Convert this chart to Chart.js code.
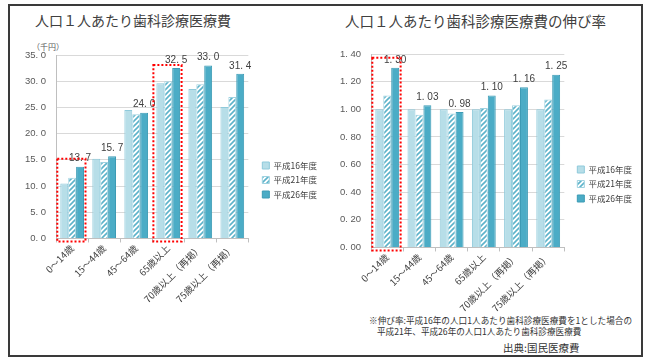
<!DOCTYPE html>
<html><head><meta charset="utf-8">
<script src="https://cdn.jsdelivr.net/npm/chart.js@4/dist/chart.umd.min.js"></script>
<style>
html,body{margin:0;padding:0;background:#fff;}
body{width:650px;height:362px;position:relative;overflow:hidden;font-family:"Noto Sans CJK JP",sans-serif;color:#404040;}
#frame{position:absolute;left:8px;top:4px;width:631px;height:349px;border:2px solid #3a3a3a;box-sizing:content-box;}
.t{position:absolute;white-space:nowrap;}
canvas{position:absolute;}
</style></head><body>
<div id="frame"></div>
<div class="t" style="left:35px;top:10px;font-size:14px;">人口１人あたり歯科診療医療費</div>
<div class="t" style="left:345px;top:10px;font-size:14.5px;">人口１人あたり歯科診療医療費の伸び率</div>
<div class="t" style="left:32px;top:41px;font-size:8px;color:#595959;">（千円）</div>
<div class="t" style="left:369px;top:314px;font-size:8.65px;color:#333;">※伸び率:平成16年の人口1人あたり歯科診療医療費を1とした場合の</div>
<div class="t" style="left:377px;top:325px;font-size:8.6px;color:#333;">平成21年、平成26年の人口1人あたり歯科診療医療費</div>
<div class="t" style="left:503px;top:340px;font-size:10.5px;color:#333;">出典:国民医療費</div>
<canvas id="c1" style="left:8px;top:32px;" width="316" height="273"></canvas>
<canvas id="c2" style="left:326px;top:36px;" width="316" height="278"></canvas>
<script>
const categories = ['0～14歳','15～44歳','45～64歳','65歳以上','70歳以上（再掲）','75歳以上（再掲）'];
const seriesNames = ['平成16年度','平成21年度','平成26年度'];
const cost16 = [10.5, 15.2, 24.5, 29.6, 28.5, 25.1];
const cost21 = [11.6, 14.6, 23.7, 30.0, 29.4, 27.0];
const cost26 = [13.7, 15.7, 24.0, 32.5, 33.0, 31.4];
const rate16 = [1.00, 1.00, 1.00, 1.00, 1.00, 1.00];
const rate21 = [1.10, 0.96, 0.97, 1.01, 1.03, 1.07];
const rate26 = [1.30, 1.03, 0.98, 1.10, 1.16, 1.25];
const costTicks = [0, 5, 10, 15, 20, 25, 30, 35];
const rateTicks = [0, 0.2, 0.4, 0.6, 0.8, 1.0, 1.2, 1.4];
const costHighlight = [0, 3];
const rateHighlight = [0];

Chart.defaults.font.family = '"Noto Sans CJK JP", "Noto Sans", sans-serif';
Chart.defaults.color = '#595959';
Chart.defaults.animation = false;

function hatch(){
  const c = document.createElement('canvas'); c.width = 5; c.height = 5;
  const x = c.getContext('2d');
  x.fillStyle = '#ffffff'; x.fillRect(0,0,5,5);
  x.strokeStyle = '#5db3ca'; x.lineWidth = 1.6;
  x.beginPath();
  x.moveTo(-1,6); x.lineTo(6,-1);
  x.moveTo(-1,1); x.lineTo(1,-1);
  x.moveTo(4,6); x.lineTo(6,4);
  x.stroke();
  return x.createPattern(c,'repeat');
}
const pat = hatch();

function datasets(a,b,c){
  return [
    {label:seriesNames[0], data:a, backgroundColor:'#b7dee8', borderColor:'#8fcadb', borderWidth:1},
    {label:seriesNames[1], data:b, backgroundColor:pat, borderColor:'#9fd2e0', borderWidth:1},
    {label:seriesNames[2], data:c, backgroundColor:'#4bacc6', borderColor:'#3c9bb5', borderWidth:1}
  ];
}

const valueLabels = {
  id:'valueLabels',
  afterDatasetsDraw(chart, args, opts){
    const ctx = chart.ctx;
    const meta = chart.getDatasetMeta(2);
    ctx.save();
    ctx.font = '10px "Liberation Sans", sans-serif';
    ctx.fillStyle = '#404040';
    ctx.textAlign = 'center'; ctx.textBaseline = 'bottom';
    meta.data.forEach((bar,i)=>{
      const v = chart.data.datasets[2].data[i];
      ctx.fillText(v.toFixed(opts.digits).replace('.', '. '), bar.x, bar.y - 3);
    });
    ctx.restore();
  }
};
const highlight = {
  id:'highlight',
  afterDatasetsDraw(chart, args, opts){
    const ctx = chart.ctx;
    const m0 = chart.getDatasetMeta(0), m2 = chart.getDatasetMeta(2);
    const ys = chart.scales.y;
    ctx.save();
    ctx.strokeStyle = '#ff0000'; ctx.lineWidth = 2; ctx.setLineDash([2,2]);
    opts.items.forEach((idx,k)=>{
      const b0 = m0.data[idx], b2 = m2.data[idx];
      let top = Math.min(...[0,1,2].map(d=>chart.getDatasetMeta(d).data[idx].y));
      top -= opts.pads[k];
      const l = b0.x - b0.width/2 - 3, r = b2.x + b2.width/2 + 1.5;
      const bot = ys.bottom + 3;
      ctx.strokeRect(l, top, r-l, bot-top);
    });
    ctx.restore();
  }
};
const legendShift = {
  id:'legendShift',
  afterLayout(chart, args, opts){
    const lg = chart.legend;
    if (lg) { lg.left += opts.dx; lg.right += opts.dx; }
  }
};

function makeChart(id, a, b, c, ticks, digits, hl, pads, padding, dx){
  return new Chart(document.getElementById(id), {
    type:'bar',
    data:{labels:categories, datasets:datasets(a,b,c)},
    options:{
      responsive:false,
      layout:{padding:padding},
      datasets:{bar:{categoryPercentage:0.74, barPercentage:1.0}},
      plugins:{
        legend:{position:'right', labels:{boxWidth:7, boxHeight:7, padding:6, color:'#404040', font:{size:8.5}}},
        tooltip:{enabled:false},
        valueLabels:{digits:digits},
        highlight:{items:hl, pads:pads},
        legendShift:{dx:dx}
      },
      scales:{
        x:{
          grid:{display:true, drawOnChartArea:false, offset:true, tickLength:4, color:'#bfbfbf'},
          border:{color:'#bfbfbf'},
          ticks:{minRotation:45, maxRotation:45, font:{size:9.5}, color:'#404040', padding:0}
        },
        y:{
          min:ticks[0], max:ticks[ticks.length-1],
          afterBuildTicks(s){ s.ticks = ticks.map(v=>({value:v})); },
          grid:{color:'#d9d9d9', drawTicks:false},
          border:{color:'#bfbfbf'},
          ticks:{padding:10, font:{size:9.5, family:'"Liberation Sans", sans-serif'}, color:'#595959', callback:(v)=>Number(v).toFixed(digits).replace('.', '. ')}
        }
      }
    },
    plugins:[valueLabels, highlight, legendShift]
  });
}
makeChart('c1', cost16, cost21, cost26, costTicks, 1, costHighlight, [8, 3], {left:7, top:23, right:5, bottom:0}, 8);
makeChart('c2', rate16, rate21, rate26, rateTicks, 2, rateHighlight, [10], {left:4, top:18, right:7, bottom:0}, 7);
</script>
</body></html>
